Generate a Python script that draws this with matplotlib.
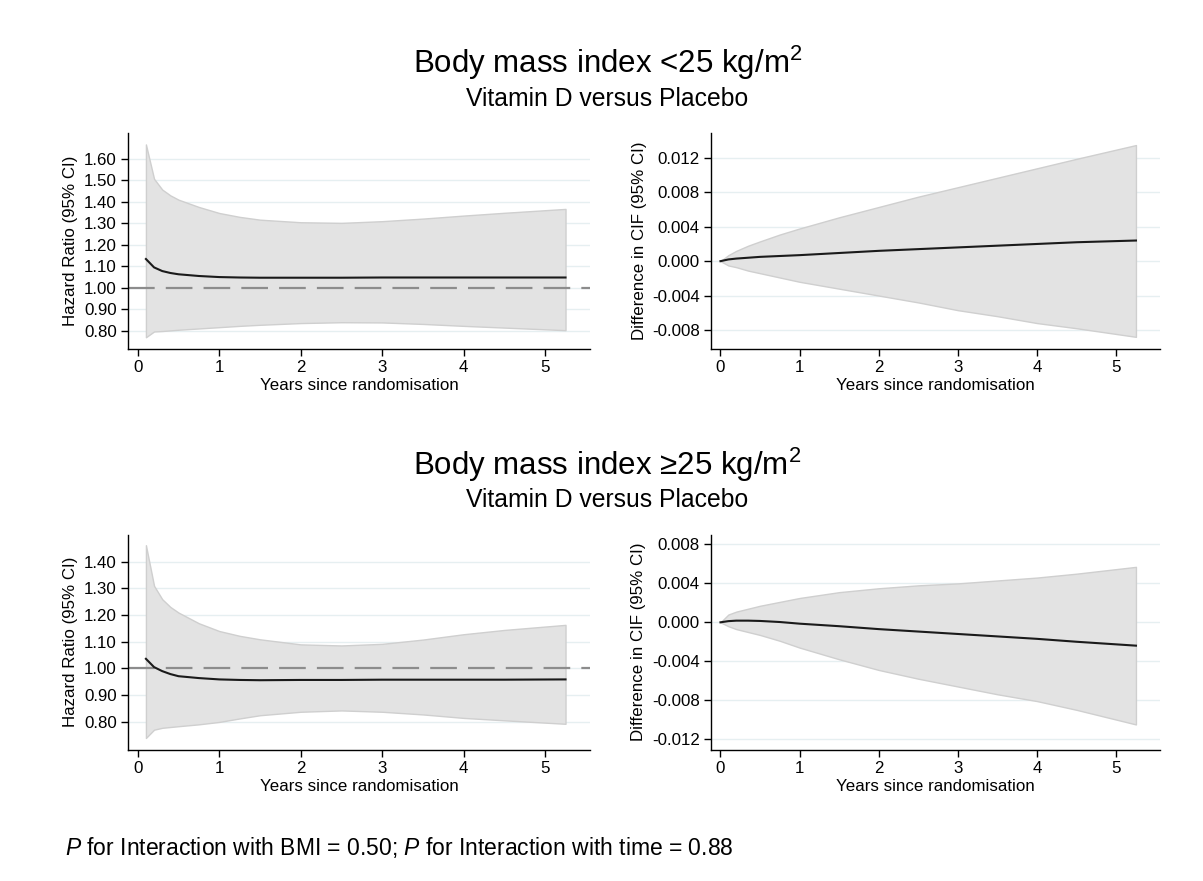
import matplotlib
matplotlib.use("Agg")
import matplotlib.pyplot as plt
from matplotlib.ticker import FuncFormatter

plt.rcParams['font.family'] = ['Liberation Sans', 'DejaVu Sans']
plt.rcParams['mathtext.fontset'] = 'custom'
plt.rcParams['mathtext.rm'] = 'Liberation Sans'
plt.rcParams['mathtext.it'] = 'Liberation Sans:italic'

# -------------------------------
# Hazard ratio curves (years since randomisation)
# -------------------------------
hr_years = [0.1, 0.2, 0.3, 0.4, 0.5, 0.75, 1.0, 1.25, 1.5, 2.0, 2.5, 3.0, 3.5, 4.0, 4.5, 5.25]

hr_low_bmi = [1.134, 1.095, 1.078, 1.069, 1.063, 1.055, 1.050, 1.048, 1.047, 1.047, 1.047, 1.048, 1.048, 1.048, 1.048, 1.048]
hr_low_bmi_up = [1.667, 1.507, 1.457, 1.430, 1.410, 1.376, 1.348, 1.330, 1.317, 1.305, 1.302, 1.310, 1.322, 1.336, 1.349, 1.367]
hr_low_bmi_lo = [0.770, 0.797, 0.799, 0.802, 0.805, 0.811, 0.817, 0.823, 0.828, 0.836, 0.840, 0.839, 0.832, 0.823, 0.815, 0.803]

hr_high_bmi = [1.036, 1.005, 0.990, 0.979, 0.971, 0.964, 0.959, 0.957, 0.956, 0.957, 0.957, 0.958, 0.958, 0.958, 0.958, 0.959]
hr_high_bmi_up = [1.461, 1.309, 1.259, 1.230, 1.209, 1.169, 1.140, 1.122, 1.109, 1.090, 1.086, 1.092, 1.108, 1.128, 1.144, 1.163]
hr_high_bmi_lo = [0.740, 0.771, 0.778, 0.781, 0.784, 0.791, 0.800, 0.813, 0.825, 0.838, 0.843, 0.838, 0.828, 0.815, 0.806, 0.793]

# -------------------------------
# Difference in CIF curves
# -------------------------------
cif_years = [0.0, 0.1, 0.2, 0.35, 0.5, 0.75, 1.0, 1.5, 2.0, 2.5, 3.0, 3.5, 4.0, 4.5, 5.25]

cif_low_bmi = [0.0, 0.0002, 0.0003, 0.0004, 0.0005, 0.0006, 0.0007, 0.00095, 0.0012, 0.0014, 0.0016, 0.0018, 0.0020, 0.0022, 0.0024]
cif_low_bmi_up = [0.0, 0.0007, 0.0012, 0.0018, 0.0023, 0.0031, 0.0038, 0.0051, 0.0063, 0.0075, 0.0086, 0.0097, 0.0108, 0.0119, 0.0135]
cif_low_bmi_lo = [0.0, -0.0005, -0.0007, -0.0011, -0.0014, -0.0019, -0.0024, -0.0032, -0.0040, -0.0048, -0.0057, -0.0064, -0.0072, -0.0078, -0.0088]

cif_high_bmi = [0.0, 0.00012, 0.00017, 0.00017, 0.00014, 0.00003, -0.00014, -0.0004, -0.0007, -0.00095, -0.0012, -0.00145, -0.0017, -0.0020, -0.0024]
cif_high_bmi_up = [0.0, 0.0008, 0.0011, 0.0014, 0.0017, 0.0021, 0.0025, 0.0031, 0.0035, 0.0038, 0.0040, 0.0043, 0.0046, 0.0050, 0.0057]
cif_high_bmi_lo = [0.0, -0.0004, -0.0007, -0.0010, -0.0013, -0.0019, -0.0026, -0.0038, -0.0049, -0.0058, -0.0066, -0.0074, -0.0081, -0.0090, -0.0105]

hr_ticks_top = [0.80, 0.90, 1.00, 1.10, 1.20, 1.30, 1.40, 1.50, 1.60]
hr_ticks_bottom = [0.80, 0.90, 1.00, 1.10, 1.20, 1.30, 1.40]
cif_ticks_top = [-0.008, -0.004, 0.000, 0.004, 0.008, 0.012]
cif_ticks_bottom = [-0.012, -0.008, -0.004, 0.000, 0.004, 0.008]
x_ticks = [0, 1, 2, 3, 4, 5]

FILL = "#e3e3e3"
EDGE = "#cfcfcf"
GRID = "#e6eff1"
FS = 12.2


def style_panel(ax, yticks, ylim, fmt, ylabel):
    ax.set_xlim(-0.12, 5.55)
    ax.set_ylim(*ylim)
    ax.set_xticks(x_ticks)
    ax.set_yticks(yticks)
    ax.yaxis.set_major_formatter(FuncFormatter(lambda v, p: fmt.format(v).replace("\u2212", "-")))
    for y in yticks:
        ax.axhline(y, color=GRID, lw=1.0, zorder=0)
    for s in ["top", "right"]:
        ax.spines[s].set_visible(False)
    ax.spines["left"].set_linewidth(1.0)
    ax.spines["bottom"].set_linewidth(1.0)
    ax.tick_params(labelsize=FS, length=5, width=1.0, colors="black", pad=3)
    ax.set_xlabel("Years since randomisation", fontsize=FS, labelpad=2.5)
    ax.set_ylabel(ylabel, fontsize=FS, labelpad=4)


def hr_panel(ax, y, up, lo, yticks, ylim):
    ax.fill_between(hr_years, lo, up, facecolor=FILL, edgecolor=EDGE, lw=1.0, zorder=1)
    ax.axhline(1.0, color="#8c8c8c", lw=1.6, dashes=(12, 5), zorder=2)
    ax.plot(hr_years, y, color="#1a1a1a", lw=1.5, zorder=3)
    style_panel(ax, yticks, ylim, "{:.2f}", "Hazard Ratio (95% CI)")


def cif_panel(ax, y, up, lo, yticks, ylim):
    ax.fill_between(cif_years, lo, up, facecolor=FILL, edgecolor=EDGE, lw=1.0, zorder=1)
    ax.plot(cif_years, y, color="#1a1a1a", lw=1.5, zorder=3)
    style_panel(ax, yticks, ylim, "{:.3f}", "Difference in CIF (95% CI)")


fig = plt.figure(figsize=(12.03, 8.81), dpi=100)

ax1 = fig.add_axes([0.1064, 0.604, 0.384, 0.245])
ax2 = fig.add_axes([0.591, 0.604, 0.373, 0.245])
ax3 = fig.add_axes([0.1064, 0.149, 0.384, 0.244])
ax4 = fig.add_axes([0.591, 0.149, 0.373, 0.244])

hr_panel(ax1, hr_low_bmi, hr_low_bmi_up, hr_low_bmi_lo, hr_ticks_top, (0.716, 1.72))
cif_panel(ax2, cif_low_bmi, cif_low_bmi_up, cif_low_bmi_lo, cif_ticks_top, (-0.0102, 0.0149))
hr_panel(ax3, hr_high_bmi, hr_high_bmi_up, hr_high_bmi_lo, hr_ticks_bottom, (0.696, 1.50))
cif_panel(ax4, cif_high_bmi, cif_high_bmi_up, cif_high_bmi_lo, cif_ticks_bottom, (-0.0131, 0.009))

# Titles
fig.text(0.505, 1 - 63 / 881, r"Body mass index <25 kg/m$^{2}$", ha="center", va="center", fontsize=22.5)
fig.text(0.505, 1 - 99 / 881, "Vitamin D versus Placebo", ha="center", va="center", fontsize=17.8)
fig.text(0.505, 1 - 465 / 881, "Body mass index \u226525 kg/m$^{2}$", ha="center", va="center", fontsize=22.5)
fig.text(0.505, 1 - 500 / 881, "Vitamin D versus Placebo", ha="center", va="center", fontsize=17.8)

fig.text(65 / 1203, 1 - 848 / 881,
         r"$P$ for Interaction with BMI = 0.50; $P$ for Interaction with time = 0.88",
         ha="left", va="center", fontsize=16.5)

fig.savefig("out.png", dpi=100, facecolor="white")
